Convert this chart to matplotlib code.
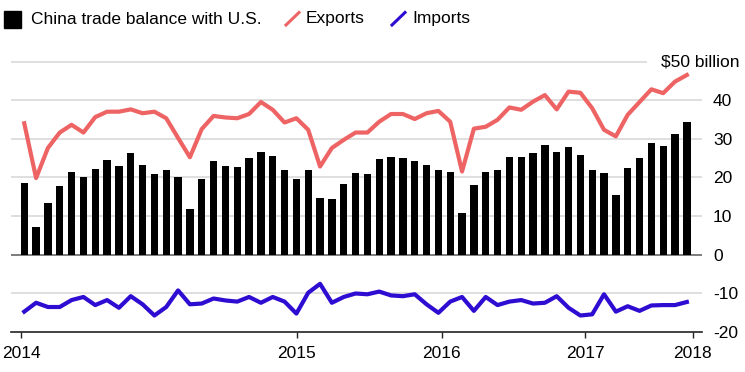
#!/usr/bin/env python3

import numpy as np
import matplotlib.pyplot as plt
from matplotlib.patches import Rectangle
from matplotlib.lines import Line2D

plt.rcParams['font.family'] = ['Liberation Sans', 'DejaVu Sans']

# monthly values, $ billion (Jan 2014 onwards)
balance = [18.5, 7.2, 13.4, 17.7, 21.4, 20.1, 22.2, 24.5, 22.9, 26.3,
           23.3, 20.8, 21.8, 20.1, 11.8, 19.6, 24.2, 22.9, 22.6, 25.1,
           26.5, 25.6, 22.0, 19.6, 22.0, 14.7, 14.4, 18.3, 21.2, 20.8,
           24.8, 25.2, 25.1, 24.2, 23.3, 21.8, 21.4, 10.7, 18.1, 21.4,
           22.0, 25.3, 25.3, 26.3, 28.3, 26.6, 27.9, 25.7, 22.0, 21.1,
           15.5, 22.3, 24.9, 29.0, 28.2, 31.2, 34.4]
exports = [34.0, 19.8, 27.6, 31.6, 33.6, 31.6, 35.6, 37.0, 37.0, 37.6,
           36.6, 37.0, 35.3, 30.2, 25.2, 32.5, 35.9, 35.5, 35.3, 36.4,
           39.5, 37.5, 34.2, 35.3, 32.3, 22.8, 27.6, 29.7, 31.6, 31.6,
           34.4, 36.4, 36.4, 35.1, 36.6, 37.2, 34.4, 21.5, 32.6, 33.1,
           34.9, 38.1, 37.5, 39.6, 41.3, 37.6, 42.2, 41.9, 37.9, 32.3,
           30.6, 36.2, 39.5, 42.8, 41.8, 44.8, 46.5]
imports = [-14.8, -12.5, -13.6, -13.6, -11.8, -11.0, -13.1, -11.8, -13.8, -10.8,
           -12.9, -15.8, -13.6, -9.3, -12.9, -12.7, -11.4, -11.9, -12.2, -11.0,
           -12.5, -11.0, -12.2, -15.3, -9.9, -7.6, -12.5, -11.0, -10.1, -10.3,
           -9.6, -10.6, -10.8, -10.3, -12.9, -15.1, -12.2, -11.0, -14.6, -11.0,
           -13.1, -12.2, -11.8, -12.7, -12.5, -10.8, -13.8, -15.8, -15.5, -10.3,
           -14.8, -13.4, -14.6, -13.2, -13.1, -13.1, -12.3]

year_labels = ['2014', '2015', '2016', '2017', '2018']
y_ticks = [-20, -10, 0, 10, 20, 30, 40]

red = '#EE6464'
blue = '#2E0CD2'
grid_c = '#DCDCDC'

x = np.arange(len(balance))

fig = plt.figure(figsize=(7.45, 3.72), dpi=100)
ax = fig.add_axes([11/745, 0.1083, 691/745, 0.7471])

# gridlines (top one shortened to leave room for the unit label)
for g in [-10, 10, 20, 30, 40]:
    ax.axhline(g, color=grid_c, lw=1.3, zorder=0)
ax.hlines(50, -1.12, 52.6, color=grid_c, lw=1.3, zorder=0)
ax.axhline(0, color='#666666', lw=1.2, zorder=1)

ax.bar(x, balance, width=0.62, color='black', zorder=2)
ax.plot(x, exports, color=red, lw=3.0, solid_joinstyle='round', zorder=3)
ax.plot(x, imports, color=blue, lw=3.0, solid_joinstyle='round', zorder=3)

ax.set_xlim(-1.12, 57.28)
ax.set_ylim(-20, 52)

for s in ['top', 'left', 'right']:
    ax.spines[s].set_visible(False)
ax.spines['bottom'].set_color('#222222')
ax.spines['bottom'].set_linewidth(1.2)

# year ticks, placed where the original chart puts them
ax.set_xticks([-0.28, 23.02, 35.3, 47.4, 56.5])
ax.set_xticklabels(year_labels, fontsize=12.5)
ax.tick_params(axis='x', direction='out', length=4, width=1,
               color='#222222', pad=6)

ax.yaxis.tick_right()
ax.set_yticks(y_ticks)
ax.set_yticklabels([str(v) for v in y_ticks], fontsize=12.5)
ax.tick_params(axis='y', length=0, pad=8)
for lab in ax.get_yticklabels():
    lab.set_horizontalalignment('left')

# unit label sits on the 50 gridline, right-aligned near the figure edge
ax.text((740 - 11) / 691, 50, '$50 billion', transform=ax.get_yaxis_transform(),
        ha='right', va='center', fontsize=12.5)

# legend drawn in pixel coordinates on an overlay
ov = fig.add_axes([0, 0, 1, 1], facecolor='none')
ov.set_xlim(0, 745)
ov.set_ylim(372, 0)
ov.axis('off')
ov.add_patch(Rectangle((4, 10.5), 17, 17, color='black'))
ov.text(31, 19, 'China trade balance with U.S.', fontsize=12.5, va='center')
ov.add_line(Line2D([286, 299], [25, 12.5], color=red, lw=2.2))
ov.text(306, 19, 'Exports', fontsize=12.5, va='center')
ov.add_line(Line2D([392, 405], [25, 12.5], color=blue, lw=2.2))
ov.text(412, 19, 'Imports', fontsize=12.5, va='center')

fig.savefig('out.png', dpi=100)
